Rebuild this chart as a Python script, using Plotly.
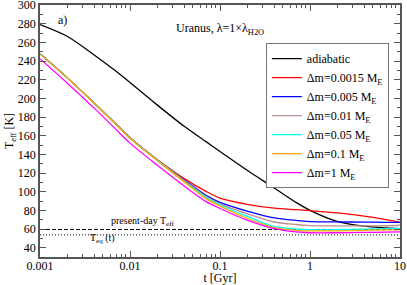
import plotly.graph_objects as go

# time grid [Gyr]
t = [0.001, 0.002, 0.004, 0.007, 0.01, 0.02, 0.04, 0.07, 0.1, 0.2, 0.4, 0.7, 1, 2, 4, 7, 10]

T_adiabatic = [279, 266.5, 246.5, 229, 217, 193, 170, 153.6, 143, 123, 104, 88.5, 80, 68.2, 63, 61.3, 60.5]
T_dm0015 = [247.8, 222.2, 195, 172.5, 158, 134.5, 114, 100.3, 93.1, 86.5, 82.3, 80.7, 79.6, 77.2, 73.8, 70, 67]
T_dm005 = [247.8, 222.2, 195, 172.3, 157.7, 134, 112.5, 96, 88.5, 79.2, 72, 69.2, 68, 67.6, 67.4, 67.2, 67]
T_dm01 = [247.8, 222.2, 195, 172.3, 157.7, 134, 112, 95, 87, 76.5, 67.5, 64.8, 63.7, 63.3, 63.3, 63.5, 64]
T_dm05 = [247.8, 222.2, 195, 172.3, 157.5, 133.8, 111, 94, 86, 73.5, 62.5, 60, 59.2, 59.2, 59.8, 60.3, 60.7]
T_dm1 = [247.5, 222, 194.8, 172, 157.3, 133.5, 110.5, 92.5, 84.5, 71.5, 61.5, 58.6, 58, 58, 58.5, 59, 59]
T_dm10 = [242.5, 216.5, 189.5, 166.5, 152, 128.5, 106, 89.3, 82, 69.5, 60.5, 57, 56, 56, 56.3, 56.7, 57]

T_present = 59.5
T_eq = 53.7
t_span = [0.001, 10]

names = ["adiabatic", "Δm=0.0015 M<sub>E</sub>", "Δm=0.005 M<sub>E</sub>", "Δm=0.01 M<sub>E</sub>",
         "Δm=0.05 M<sub>E</sub>", "Δm=0.1 M<sub>E</sub>", "Δm=1 M<sub>E</sub>"]
series = [T_adiabatic, T_dm0015, T_dm005, T_dm01, T_dm05, T_dm1, T_dm10]
colors = ["#000000", "#ff0000", "#0000ff", "#bc8f8f", "#00ffff", "#ffa500", "#ff00ff"]

x_tickvals = [0.001, 0.01, 0.1, 1, 10]
x_ticktext = ["0.001", "0.01", "0.1", "1", "10"]
y_tickvals = [40, 60, 80, 100, 120, 140, 160, 180, 200, 220, 240, 260, 280, 300]

FONT = "Liberation Serif, Times New Roman, DejaVu Serif, serif"
AX = "#555555"

fig = go.Figure()

fig.add_trace(go.Scatter(x=t_span, y=[T_present, T_present], mode="lines",
                         line=dict(color="black", width=1, dash="4px,2px"), showlegend=False))
fig.add_trace(go.Scatter(x=t_span, y=[T_eq, T_eq], mode="lines",
                         line=dict(color="black", width=1, dash="1px,2px"), showlegend=False))

for name, ys, c in zip(names, series, colors):
    fig.add_trace(go.Scatter(x=t, y=ys, mode="lines", name=name,
                             line=dict(color=c, width=1.3, shape="spline", smoothing=0.8)))

fig.update_layout(
    width=407, height=285,
    margin=dict(l=40, r=7, t=5, b=28),
    paper_bgcolor="white", plot_bgcolor="white",
    font=dict(family=FONT, size=12, color="black"),
    legend=dict(x=0.969, y=0.849, xanchor="right", yanchor="top",
                bgcolor="white", bordercolor="#777777", borderwidth=1,
                font=dict(family=FONT, size=12, color="black"), itemwidth=30, tracegroupgap=0),
    annotations=[
        dict(text="a)", x=0.044, y=0.975, xref="paper", yref="paper", showarrow=False,
             font=dict(family=FONT, size=12)),
        dict(text="Uranus, λ=1×λ<sub>H2O</sub>", x=0.5, y=0.945, xref="paper", yref="paper",
             showarrow=False, font=dict(family=FONT, size=12)),
        dict(text="present-day T<sub>eff</sub>", x=0.193, y=0.108, xref="paper", yref="paper",
             showarrow=False, font=dict(family=FONT, size=10)),
        dict(text="T<sub>eq</sub> (t)", x=0.132, y=0.038, xref="paper", yref="paper",
             showarrow=False, font=dict(family=FONT, size=10)),
    ],
)

fig.update_xaxes(type="log", range=[-3, 1], tickvals=x_tickvals, ticktext=x_ticktext,
                 automargin=False, ticklabeloverflow="allow", ticklabelstandoff=-3,
                 tickfont=dict(family=FONT, size=12, color="black"),
                 showgrid=False, zeroline=False, showline=True, linecolor=AX, linewidth=1.5,
                 mirror="ticks", ticks="inside", ticklen=6, tickcolor=AX,
                 minor=dict(ticks="inside", ticklen=3, tickcolor=AX, dtick="D1", showgrid=False),
                 title=dict(text="t [Gyr]", standoff=4, font=dict(family=FONT, size=12)))
fig.update_yaxes(range=[30, 300], tickvals=y_tickvals,
                 automargin=False, ticklabeloverflow="allow",
                 tickfont=dict(family=FONT, size=12, color="black"),
                 showgrid=False, zeroline=False, showline=True, linecolor=AX, linewidth=1.5,
                 mirror="ticks", ticks="inside", ticklen=6, tickcolor=AX,
                 minor=dict(ticks="inside", ticklen=3, tickcolor=AX, dtick=10, tick0=0, showgrid=False),
                 title=dict(text="T<sub>eff</sub> [K]", standoff=0, font=dict(family=FONT, size=12)))

fig.write_html("out.html", config={"displayModeBar": False},
               post_script="document.body.style.margin='0';")
